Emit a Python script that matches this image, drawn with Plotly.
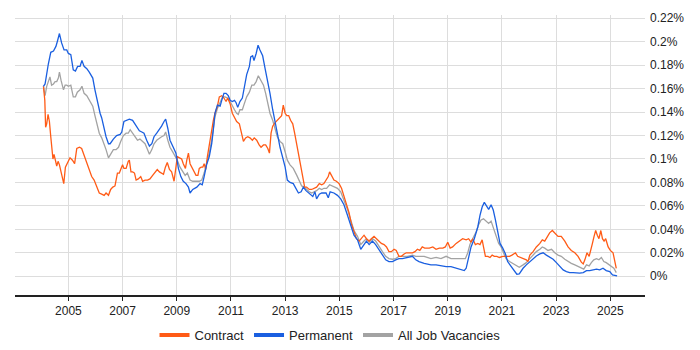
import plotly.graph_objects as go

# ---- data (values in percent of all job vacancies) ----
perm_years = [2004.08, 2004.14, 2004.26, 2004.35, 2004.45, 2004.54, 2004.59, 2004.67, 2004.75, 2004.84, 2004.94,
              2005.00, 2005.09, 2005.18, 2005.26, 2005.34, 2005.43, 2005.50, 2005.58, 2005.68, 2005.77, 2005.90, 2005.98,
              2006.07, 2006.17, 2006.23, 2006.32, 2006.39, 2006.48, 2006.54, 2006.66, 2006.78, 2006.91, 2006.97,
              2007.05, 2007.15, 2007.25, 2007.37, 2007.46, 2007.55, 2007.62, 2007.71, 2007.79, 2007.89, 2007.99,
              2008.08, 2008.16, 2008.26, 2008.36, 2008.44, 2008.53, 2008.59, 2008.67, 2008.75, 2008.87, 2008.97,
              2009.06, 2009.15, 2009.24, 2009.34, 2009.43, 2009.49, 2009.59, 2009.74, 2009.86, 2009.94,
              2010.01, 2010.10, 2010.20, 2010.29, 2010.35, 2010.41, 2010.50, 2010.60, 2010.66, 2010.74, 2010.82, 2010.90, 2010.97,
              2011.05, 2011.13, 2011.19, 2011.25, 2011.33, 2011.42, 2011.49, 2011.58, 2011.68, 2011.73, 2011.80, 2011.85, 2011.93,
              2012.00, 2012.07, 2012.17, 2012.26, 2012.36, 2012.44, 2012.54, 2012.63, 2012.71, 2012.81, 2012.91,
              2013.00, 2013.08, 2013.18, 2013.30, 2013.40, 2013.49, 2013.59, 2013.67, 2013.77, 2013.86, 2013.94,
              2014.02, 2014.10, 2014.16, 2014.26, 2014.35, 2014.43, 2014.51, 2014.59, 2014.66, 2014.80, 2014.93,
              2015.05, 2015.17, 2015.30, 2015.42, 2015.54, 2015.67, 2015.79, 2015.91,
              2016.00, 2016.10, 2016.22, 2016.34, 2016.47, 2016.59, 2016.71, 2016.83, 2016.96,
              2017.08, 2017.20, 2017.33, 2017.51, 2017.70, 2017.82, 2017.94, 2018.13,
              2018.38, 2018.57, 2018.75, 2018.94, 2019.12, 2019.31, 2019.49, 2019.61, 2019.68, 2019.77, 2019.86, 2019.98,
              2020.11, 2020.19, 2020.27, 2020.35, 2020.44, 2020.51, 2020.60, 2020.68, 2020.76, 2020.84, 2020.93,
              2021.03, 2021.13, 2021.21, 2021.34, 2021.46, 2021.55, 2021.64, 2021.78, 2021.90,
              2022.03, 2022.15, 2022.27, 2022.40, 2022.52, 2022.64, 2022.76, 2022.89,
              2023.01, 2023.13, 2023.26, 2023.38, 2023.50, 2023.63, 2023.75, 2023.87,
              2024.00, 2024.12, 2024.24, 2024.36, 2024.49, 2024.61, 2024.73, 2024.85, 2024.98,
              2025.08, 2025.20, 2025.25]
perm_values = [0.162, 0.164, 0.181, 0.191, 0.192, 0.196, 0.200, 0.207, 0.199, 0.193, 0.193,
               0.190, 0.189, 0.176, 0.175, 0.179, 0.179, 0.184, 0.179, 0.177, 0.174, 0.169, 0.159,
               0.149, 0.139, 0.135, 0.126, 0.119, 0.113, 0.113, 0.117, 0.120, 0.121, 0.123,
               0.132, 0.133, 0.134, 0.133, 0.130, 0.126, 0.124, 0.123, 0.122, 0.116, 0.111,
               0.113, 0.119, 0.122, 0.125, 0.128, 0.132, 0.134, 0.126, 0.116, 0.110, 0.105,
               0.092, 0.085, 0.081, 0.079, 0.076, 0.071, 0.074, 0.076, 0.079, 0.078,
               0.085, 0.095, 0.102, 0.113, 0.125, 0.139, 0.146, 0.145, 0.150, 0.156, 0.156, 0.154, 0.150,
               0.149, 0.150, 0.148, 0.144, 0.149, 0.152, 0.162, 0.172, 0.179, 0.187, 0.188, 0.184, 0.190,
               0.197, 0.193, 0.188, 0.177, 0.166, 0.156, 0.142, 0.130, 0.122, 0.110, 0.102,
               0.093, 0.082, 0.080, 0.079, 0.074, 0.071, 0.072, 0.076, 0.073, 0.071, 0.070,
               0.068, 0.072, 0.066, 0.070, 0.071, 0.071, 0.071, 0.067, 0.072, 0.071, 0.069,
               0.066, 0.061, 0.052, 0.044, 0.035, 0.031, 0.023, 0.027,
               0.030, 0.027, 0.030, 0.027, 0.022, 0.018, 0.014, 0.0125, 0.0125,
               0.014, 0.015, 0.015, 0.016, 0.017, 0.014, 0.0125, 0.011,
               0.0097, 0.0097, 0.0088, 0.0082, 0.0082, 0.0068, 0.0054, 0.0048, 0.0068, 0.0168, 0.025, 0.032,
               0.042, 0.052, 0.059, 0.063, 0.059, 0.057, 0.061, 0.0565, 0.048, 0.037, 0.028,
               0.024, 0.019, 0.0125, 0.0082, 0.004, 0.0017, 0.002, 0.0068, 0.0097,
               0.0125, 0.0153, 0.0173, 0.019, 0.020, 0.018, 0.016, 0.0145,
               0.0116, 0.0082, 0.0054, 0.004, 0.0031, 0.0031, 0.0026, 0.0026,
               0.0031, 0.0048, 0.0048, 0.0054, 0.006, 0.0054, 0.0068, 0.0048, 0.004,
               0.0011, 0.0006, 0.0003]

contract_years = [2004.08, 2004.13, 2004.16, 2004.20, 2004.25, 2004.30, 2004.35, 2004.40, 2004.43, 2004.47, 2004.52,
                  2004.57, 2004.62, 2004.67, 2004.74, 2004.83, 2004.89, 2004.98, 2005.06, 2005.15, 2005.23, 2005.31,
                  2005.41, 2005.49, 2005.58, 2005.68, 2005.77, 2005.86, 2005.95, 2006.05, 2006.14, 2006.23, 2006.32,
                  2006.39, 2006.48, 2006.56, 2006.64, 2006.72, 2006.81, 2006.88, 2006.93, 2007.00, 2007.05, 2007.13,
                  2007.21, 2007.25, 2007.31, 2007.37, 2007.44, 2007.50, 2007.58, 2007.67, 2007.74, 2007.83, 2007.92,
                  2008.01, 2008.11, 2008.20, 2008.28, 2008.36, 2008.44, 2008.51, 2008.58, 2008.65, 2008.73, 2008.81,
                  2008.90, 2008.97, 2009.02, 2009.10, 2009.18, 2009.24, 2009.32, 2009.37, 2009.43, 2009.49, 2009.56,
                  2009.64, 2009.71, 2009.78, 2009.83, 2009.90, 2009.96, 2010.01, 2010.07, 2010.13, 2010.20, 2010.29,
                  2010.35, 2010.41, 2010.50, 2010.57, 2010.66, 2010.74, 2010.82, 2010.88, 2010.97, 2011.05, 2011.13,
                  2011.21, 2011.31, 2011.38, 2011.46, 2011.54, 2011.62, 2011.70, 2011.79, 2011.86, 2011.95, 2012.04,
                  2012.11, 2012.20, 2012.28, 2012.36, 2012.42, 2012.48, 2012.54, 2012.63, 2012.71, 2012.81, 2012.87,
                  2012.93, 2013.00, 2013.06, 2013.13, 2013.20, 2013.28, 2013.35, 2013.43, 2013.50, 2013.57, 2013.65,
                  2013.72, 2013.79, 2013.89, 2013.98, 2014.07, 2014.16, 2014.26, 2014.35, 2014.43, 2014.51, 2014.59,
                  2014.64, 2014.72, 2014.80, 2014.89, 2014.99, 2015.08, 2015.17, 2015.26, 2015.36, 2015.44, 2015.54,
                  2015.63, 2015.73, 2015.81, 2015.91, 2016.00, 2016.10, 2016.18, 2016.28, 2016.37, 2016.47, 2016.55,
                  2016.65, 2016.74, 2016.83, 2016.92, 2017.02, 2017.10, 2017.20, 2017.29, 2017.39, 2017.47, 2017.57,
                  2017.70, 2017.79, 2017.88, 2017.97, 2018.06, 2018.15, 2018.32, 2018.45, 2018.57, 2018.69, 2018.82,
                  2018.91, 2019.00, 2019.09, 2019.18, 2019.31, 2019.43, 2019.55, 2019.68, 2019.77, 2019.86, 2019.92,
                  2020.02, 2020.11, 2020.19, 2020.27, 2020.32, 2020.39, 2020.48, 2020.56, 2020.64, 2020.72, 2020.81,
                  2020.91, 2021.03, 2021.15, 2021.28, 2021.37, 2021.50, 2021.58, 2021.71, 2021.78, 2021.90, 2021.96,
                  2022.03, 2022.15, 2022.27, 2022.40, 2022.49, 2022.58, 2022.67, 2022.76, 2022.86, 2022.95, 2023.07,
                  2023.19, 2023.32, 2023.44, 2023.56, 2023.69, 2023.81, 2023.93, 2024.00, 2024.06, 2024.14, 2024.22,
                  2024.28, 2024.34, 2024.40, 2024.46, 2024.52, 2024.58, 2024.65, 2024.71, 2024.77, 2024.83, 2024.92,
                  2025.00, 2025.10, 2025.16, 2025.22]
contract_values = [0.162, 0.150, 0.127, 0.130, 0.138, 0.132, 0.119, 0.108, 0.100, 0.104, 0.099,
                   0.094, 0.098, 0.095, 0.088, 0.079, 0.093, 0.098, 0.101, 0.099, 0.096, 0.109,
                   0.110, 0.109, 0.103, 0.097, 0.092, 0.085, 0.082, 0.076, 0.071, 0.070, 0.069,
                   0.071, 0.069, 0.074, 0.076, 0.077, 0.088, 0.088, 0.091, 0.095, 0.092, 0.092,
                   0.098, 0.099, 0.089, 0.089, 0.088, 0.082, 0.083, 0.085, 0.081, 0.082, 0.082,
                   0.083, 0.086, 0.089, 0.091, 0.089, 0.088, 0.087, 0.093, 0.097, 0.091, 0.089,
                   0.081, 0.093, 0.102, 0.101, 0.100, 0.096, 0.092, 0.099, 0.105, 0.096, 0.093,
                   0.090, 0.086, 0.086, 0.092, 0.093, 0.093, 0.096, 0.091, 0.102, 0.113, 0.123,
                   0.133, 0.139, 0.145, 0.153, 0.154, 0.152, 0.149, 0.152, 0.147, 0.139, 0.135,
                   0.132, 0.130, 0.122, 0.115, 0.118, 0.119, 0.118, 0.116, 0.118, 0.116, 0.112,
                   0.110, 0.112, 0.112, 0.109, 0.105, 0.122, 0.128, 0.131, 0.133, 0.136, 0.137,
                   0.146, 0.139, 0.137, 0.137, 0.133, 0.130, 0.122, 0.112, 0.102, 0.092, 0.082,
                   0.076, 0.076, 0.074, 0.074, 0.075, 0.076, 0.079, 0.078, 0.079, 0.082, 0.085,
                   0.089, 0.086, 0.082, 0.081, 0.079, 0.075, 0.068, 0.061, 0.054, 0.045, 0.038,
                   0.032, 0.030, 0.032, 0.035, 0.032, 0.030, 0.032, 0.034, 0.032, 0.030, 0.028,
                   0.027, 0.025, 0.021, 0.021, 0.023, 0.022, 0.017, 0.017, 0.019, 0.020, 0.020,
                   0.020, 0.021, 0.023, 0.022, 0.025, 0.024, 0.024, 0.025, 0.023, 0.024, 0.024,
                   0.025, 0.029, 0.024, 0.025, 0.028, 0.030, 0.032, 0.031, 0.032, 0.029, 0.032,
                   0.027, 0.028, 0.027, 0.031, 0.025, 0.017, 0.017, 0.016, 0.018, 0.017, 0.017,
                   0.016, 0.017, 0.017, 0.017, 0.018, 0.020, 0.017, 0.016, 0.015, 0.014, 0.0125,
                   0.018, 0.021, 0.025, 0.028, 0.031, 0.030, 0.034, 0.037, 0.039, 0.037, 0.034,
                   0.034, 0.030, 0.025, 0.022, 0.020, 0.017, 0.012, 0.0105, 0.014, 0.020, 0.017,
                   0.024, 0.028, 0.034, 0.039, 0.035, 0.032, 0.039, 0.032, 0.030, 0.032, 0.025,
                   0.022, 0.020, 0.014, 0.0068]

all_years = [2004.08, 2004.14, 2004.20, 2004.26, 2004.32, 2004.38, 2004.45, 2004.51, 2004.57, 2004.63, 2004.67,
             2004.73, 2004.82, 2004.88, 2004.94, 2005.00, 2005.09, 2005.18, 2005.26, 2005.33, 2005.43, 2005.50,
             2005.58, 2005.68, 2005.77, 2005.90, 2005.98, 2006.07, 2006.14, 2006.23, 2006.32, 2006.39, 2006.48,
             2006.56, 2006.66, 2006.76, 2006.85, 2006.93, 2007.03, 2007.13, 2007.21, 2007.28, 2007.37, 2007.46,
             2007.55, 2007.64, 2007.74, 2007.83, 2007.92, 2007.99, 2008.08, 2008.16, 2008.26, 2008.36, 2008.44,
             2008.53, 2008.59, 2008.67, 2008.75, 2008.85, 2008.94, 2009.02, 2009.12, 2009.22, 2009.31, 2009.39,
             2009.49, 2009.59, 2009.71, 2009.83, 2009.92, 2010.01, 2010.10, 2010.20, 2010.29, 2010.35, 2010.41,
             2010.50, 2010.60, 2010.69, 2010.78, 2010.87, 2010.97, 2011.05, 2011.13, 2011.21, 2011.27, 2011.33,
             2011.42, 2011.49, 2011.58, 2011.68, 2011.77, 2011.85, 2011.93, 2012.01, 2012.10, 2012.20, 2012.28,
             2012.36, 2012.44, 2012.54, 2012.63, 2012.71, 2012.81, 2012.91, 2013.00, 2013.08, 2013.18, 2013.30,
             2013.43, 2013.52, 2013.61, 2013.70, 2013.79, 2013.89, 2013.98, 2014.07, 2014.16, 2014.26, 2014.35,
             2014.43, 2014.53, 2014.64, 2014.80, 2014.93, 2015.05, 2015.17, 2015.30, 2015.42, 2015.54, 2015.67,
             2015.79, 2015.91, 2016.00, 2016.10, 2016.22, 2016.34, 2016.47, 2016.59, 2016.71, 2016.83, 2016.96,
             2017.08, 2017.20, 2017.33, 2017.51, 2017.70, 2017.82, 2017.94, 2018.13, 2018.38, 2018.57, 2018.75,
             2018.94, 2019.12, 2019.31, 2019.49, 2019.65, 2019.74, 2019.82, 2019.92, 2020.05, 2020.14, 2020.23,
             2020.32, 2020.41, 2020.51, 2020.60, 2020.68, 2020.78, 2020.88, 2020.97, 2021.05, 2021.15, 2021.28,
             2021.40, 2021.52, 2021.64, 2021.78, 2021.90, 2022.03, 2022.15, 2022.27, 2022.40, 2022.49, 2022.58,
             2022.70, 2022.83, 2022.95, 2023.07, 2023.19, 2023.32, 2023.44, 2023.56, 2023.69, 2023.81, 2023.93,
             2024.02, 2024.12, 2024.22, 2024.30, 2024.39, 2024.49, 2024.58, 2024.67, 2024.76, 2024.85, 2024.95,
             2025.04, 2025.13, 2025.22]
all_values = [0.162, 0.154, 0.162, 0.166, 0.170, 0.163, 0.164, 0.166, 0.166, 0.169, 0.174,
              0.167, 0.159, 0.163, 0.163, 0.162, 0.163, 0.153, 0.153, 0.157, 0.159, 0.162,
              0.156, 0.154, 0.150, 0.145, 0.137, 0.129, 0.122, 0.118, 0.113, 0.108, 0.101,
              0.104, 0.108, 0.108, 0.110, 0.115, 0.120, 0.122, 0.122, 0.125, 0.122, 0.119,
              0.116, 0.117, 0.115, 0.113, 0.108, 0.104, 0.108, 0.113, 0.116, 0.118, 0.119,
              0.120, 0.123, 0.116, 0.110, 0.106, 0.102, 0.099, 0.093, 0.089, 0.086, 0.088,
              0.082, 0.081, 0.081, 0.081, 0.082, 0.088, 0.096, 0.105, 0.116, 0.126, 0.136,
              0.143, 0.149, 0.153, 0.153, 0.152, 0.149, 0.145, 0.142, 0.139, 0.138, 0.142,
              0.142, 0.147, 0.153, 0.157, 0.163, 0.163, 0.166, 0.171, 0.167, 0.163, 0.156,
              0.147, 0.139, 0.133, 0.126, 0.119, 0.115, 0.113, 0.106, 0.099, 0.095, 0.092,
              0.086, 0.081, 0.077, 0.076, 0.074, 0.072, 0.071, 0.072, 0.073, 0.075, 0.074,
              0.075, 0.075, 0.078, 0.076, 0.075, 0.072, 0.065, 0.057, 0.048, 0.039, 0.034,
              0.027, 0.030, 0.032, 0.029, 0.032, 0.030, 0.025, 0.021, 0.017, 0.015, 0.0145,
              0.015, 0.017, 0.017, 0.017, 0.018, 0.017, 0.017, 0.017, 0.015, 0.016, 0.015,
              0.017, 0.015, 0.015, 0.015, 0.015, 0.020, 0.027, 0.032, 0.038, 0.044, 0.048,
              0.049, 0.047, 0.045, 0.047, 0.042, 0.035, 0.028, 0.025, 0.020, 0.015, 0.0125,
              0.011, 0.0088, 0.0077, 0.0097, 0.0116, 0.015, 0.018, 0.021, 0.023, 0.025, 0.024,
              0.022, 0.023, 0.020, 0.018, 0.017, 0.0145, 0.0125, 0.011, 0.0097, 0.0082, 0.0068,
              0.006, 0.0097, 0.0088, 0.0116, 0.014, 0.015, 0.014, 0.016, 0.0125, 0.0116, 0.0097,
              0.0082, 0.0068, 0.0031]

year_ticks = [2005, 2007, 2009, 2011, 2013, 2015, 2017, 2019, 2021, 2023, 2025]
year_labels = ["2005", "2007", "2009", "2011", "2013", "2015", "2017", "2019", "2021", "2023", "2025"]
pct_ticks = [0, 0.02, 0.04, 0.06, 0.08, 0.10, 0.12, 0.14, 0.16, 0.18, 0.20, 0.22]
pct_labels = ["0%", "0.02%", "0.04%", "0.06%", "0.08%", "0.1%", "0.12%", "0.14%", "0.16%", "0.18%", "0.2%", "0.22%"]

series_names = ["Contract", "Permanent", "All Job Vacancies"]
series_colors = ["#ff5b16", "#1a5fe0", "#a3a3a3"]

fig = go.Figure()
# draw order: all vacancies behind, then contract, then permanent
for name, xs, ys, color in [
    (series_names[2], all_years, all_values, series_colors[2]),
    (series_names[0], contract_years, contract_values, series_colors[0]),
    (series_names[1], perm_years, perm_values, series_colors[1]),
]:
    fig.add_trace(go.Scatter(x=xs, y=ys, mode="lines", name=name, showlegend=False,
                             line=dict(color=color, width=1.3), hoverinfo="skip"))

# legend entries (thicker swatches, in reference order)
for name, color in zip(series_names, series_colors):
    fig.add_trace(go.Scatter(x=[None], y=[None], mode="lines", name=name,
                             line=dict(color=color, width=4)))

# the page body adds an 8px margin, so the figure is sized to fit the 700x350 window
fig.update_layout(
    width=692, height=342,
    margin=dict(l=7, r=55, t=7, b=55, autoexpand=False),
    paper_bgcolor="white", plot_bgcolor="white",
    font=dict(family="Liberation Sans, Arial, sans-serif", size=12, color="#222"),
    legend=dict(orientation="h", x=0.5, xanchor="center", y=-0.143, yanchor="middle",
                font=dict(size=13, color="#222"), itemwidth=30, traceorder="normal"),
)
fig.update_xaxes(range=[2003.03, 2026.28], tickmode="array", tickvals=year_ticks, ticktext=year_labels,
                 showgrid=True, gridcolor="#dddddd", gridwidth=1, zeroline=False, automargin=False,
                 showline=True, linecolor="#222", linewidth=1.5,
                 ticks="outside", ticklen=4, tickcolor="#222", tickfont=dict(size=12))
fig.update_yaxes(range=[-0.016, 0.2228], side="right", tickmode="array", tickvals=pct_ticks, ticktext=pct_labels,
                 showgrid=True, gridcolor="#dddddd", gridwidth=1, zeroline=False, showline=False, automargin=False,
                 ticks="", ticklabelstandoff=4, tickfont=dict(size=12))

fig.write_html("out.html")
